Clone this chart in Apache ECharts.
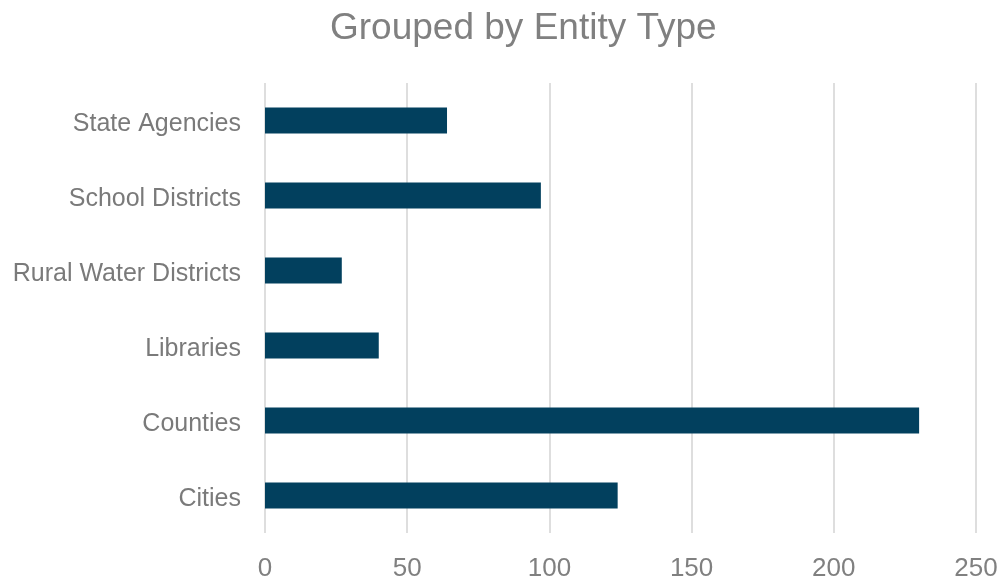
<!DOCTYPE html>
<html><head><meta charset="utf-8">
<script src="https://cdn.jsdelivr.net/npm/echarts@6/dist/echarts.min.js"></script>
<style>html,body{margin:0;padding:0;background:#fff}#c{width:1002px;height:584px}</style>
</head><body><div id="c"></div>
<script>
const categories = ["Cities", "Counties", "Libraries", "Rural Water Districts", "School Districts", "State Agencies"];
const values = [124, 230, 40, 27, 97, 64];
const xTicks = [0, 50, 100, 150, 200, 250];

const chart = echarts.init(document.getElementById('c'), null, {renderer: 'canvas'});
chart.setOption({
  animation: false,
  backgroundColor: '#ffffff',
  title: {
    text: 'Grouped by Entity Type', left: 325, top: 5,
    textStyle: {fontFamily: 'Liberation Sans', fontSize: 37, fontWeight: 'normal', color: '#808080'}
  },
  grid: {left: 265, right: 26, top: 83, bottom: 51, containLabel: false},
  xAxis: {
    type: 'value', min: xTicks[0], max: xTicks[xTicks.length - 1], interval: 50,
    axisLine: {show: false}, axisTick: {show: false},
    splitLine: {lineStyle: {color: '#dedede', width: 2}},
    axisLabel: {fontFamily: 'Liberation Sans', fontSize: 26, color: '#808080', margin: 23}
  },
  yAxis: {
    type: 'category', data: categories,
    axisLine: {show: false}, axisTick: {show: false},
    axisLabel: {
      margin: 24,
      formatter: v => '{a|' + v + '}',
      rich: {a: {fontFamily: 'Liberation Sans', fontSize: 25, color: '#7a7a7a', padding: [7, 0, 0, 0]}}
    }
  },
  series: [{
    type: 'bar', data: values, barWidth: 26,
    itemStyle: {color: '#02405e'}
  }]
});
</script></body></html>
